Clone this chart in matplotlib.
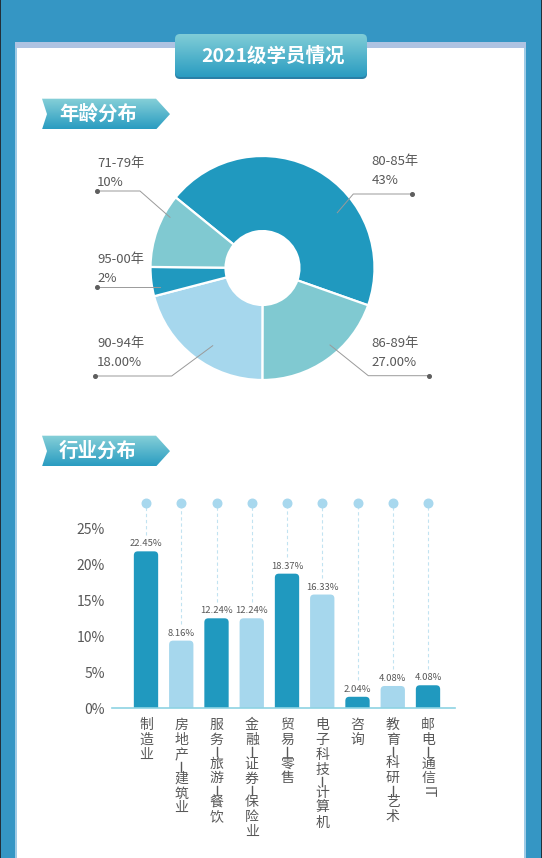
import numpy as np
import matplotlib
matplotlib.use("Agg")
import matplotlib.pyplot as plt
from matplotlib.patches import Rectangle, FancyBboxPatch, Polygon

plt.rcParams['font.family'] = ['Noto Sans CJK SC', 'DejaVu Sans']

# -------------------------------------------------------------------
# Data
# -------------------------------------------------------------------
title = "2021级学员情况"
age_names = ["80-85年", "86-89年", "90-94年", "95-00年", "71-79年"]
age_texts = ["43%", "27.00%", "18.00%", "2%", "10%"]
age_share = [44.5, 19.6, 20.9, 4.2, 10.7]      # slice sizes as drawn

industries = ["制造业", "房地产—建筑业", "服务—旅游—餐饮", "金融—证券—保险业",
              "贸易—零售", "电子科技—计算机", "咨询", "教育—科研—艺术", "邮电—通信IT"]
industry_height = [21.8, 9.4, 12.5, 12.5, 18.7, 15.8, 1.6, 3.1, 3.2]   # bar heights as drawn
industry_texts = ["22.45%", "8.16%", "12.24%", "12.24%", "18.37%", "16.33%",
                  "2.04%", "4.08%", "4.08%"]
yticks = [0, 5, 10, 15, 20, 25]

DARK = "#2099bf"
TEAL = "#80c9d1"
LIGHT = "#a6d7ed"
TXT = "#585858"

W, H = 542, 858
fig = plt.figure(figsize=(W / 100, H / 100), dpi=100)

# -------------------------------------------------------------------
# Page background (pixel coordinates)
# -------------------------------------------------------------------
bg = fig.add_axes([0, 0, 1, 1], zorder=0)
bg.axis("off")


def box(x, y, w, h, c):
    bg.add_patch(Rectangle((x, y), w, h, facecolor=c, edgecolor="none", lw=0))


box(0, 0, W, H, "#3596c4")
box(0, 0, 1, H, "#22303a")
box(541, 0, 1, H, "#22303a")
box(15, 42, 511, 6, "#aec3e2")
box(15, 48, 511, H, "#9fcbe6")
box(17, 48, 507, H, "white")


def gradient_fill(patch, x0, x1, y0, y1, top="#86d0d8", bottom="#2a9cc1"):
    bg.add_patch(patch)
    c1 = np.array(matplotlib.colors.to_rgb(top))
    c2 = np.array(matplotlib.colors.to_rgb(bottom))
    t = np.linspace(0, 1, 64)[:, None, None]
    img = c1 * (1 - t) + c2 * t
    im = bg.imshow(img, extent=(x0, x1, y1, y0), origin="upper",
                   aspect="auto", zorder=2)
    im.set_clip_path(patch)


# title box
bg.add_patch(FancyBboxPatch((175, 36), 192, 43, boxstyle="round,pad=0,rounding_size=5",
                            facecolor="#2a7fa6", edgecolor="none", zorder=1))
tbox = FancyBboxPatch((175, 34), 192, 43, boxstyle="round,pad=0,rounding_size=5",
                      facecolor="none", edgecolor="none")
gradient_fill(tbox, 175, 367, 34, 77, top="#80cdd7", bottom="#2a9cc1")
bg.text(273, 56.5, title, color="white", fontsize=14, fontweight="bold",
        ha="center", va="center", zorder=3)

# section banners
for label, y0 in [("年龄分布", 98.7), ("行业分布", 435.7)]:
    h = 30.8
    x0 = 42
    verts = [(x0, y0), (156, y0), (170, y0 + h / 2), (156, y0 + h),
             (x0, y0 + h), (x0 + 5, y0 + h / 2)]
    poly = Polygon(verts, closed=True, facecolor="none", edgecolor="none")
    gradient_fill(poly, x0, 170, y0, y0 + h)
    bg.text(98, y0 + h / 2, label, color="white", fontsize=14, fontweight="bold",
            ha="center", va="center", zorder=3)

bg.set_xlim(0, W)
bg.set_ylim(H, 0)

# -------------------------------------------------------------------
# Donut chart
# -------------------------------------------------------------------
cx, cy, R = 262.5, 268, 112
ax_pie = fig.add_axes([(cx - R) / W, 1 - (cy + R) / H, 2 * R / W, 2 * R / H], zorder=2)
ax_pie.pie(age_share, colors=[DARK, TEAL, LIGHT, DARK, TEAL], startangle=140.9,
           counterclock=False, radius=1,
           wedgeprops=dict(width=0.67, edgecolor="white", linewidth=1.6))
ax_pie.set_xlim(-1, 1)
ax_pie.set_ylim(-1, 1)
ax_pie.axis("off")

# labels with leader lines (page pixel coords)
lab = fig.add_axes([0, 0, 1, 1], zorder=3)
lab.axis("off")
lab.set_xlim(0, W)
lab.set_ylim(H, 0)
label_spots = {
    "80-85年": dict(tx=371.7, ty=162, line=[(412.3, 194), (353.3, 194), (337.3, 212.7)]),
    "86-89年": dict(tx=371.7, ty=343, line=[(429, 375.7), (368.3, 375.7), (330, 345)]),
    "90-94年": dict(tx=97, ty=343, line=[(95, 376), (171.7, 376), (212.7, 345.7)]),
    "95-00年": dict(tx=97, ty=260, line=[(97.3, 286.7), (160, 286.7)]),
    "71-79年": dict(tx=97, ty=163, line=[(97.3, 191), (140, 191), (170, 217.3)]),
}
for name, pct in zip(age_names, age_texts):
    s = label_spots[name]
    lx, ly = zip(*s["line"])
    lab.plot(lx, ly, color="#9a9a9a", lw=0.7)
    lab.plot(lx[0], ly[0], "o", color="#5e5e5e", ms=2.6)
    lab.text(s["tx"], s["ty"], name, fontsize=9.5, color=TXT, ha="left", va="center")
    lab.text(s["tx"], s["ty"] + 19, pct, fontsize=9.5, color=TXT, ha="left", va="center")

# -------------------------------------------------------------------
# Bar chart
# -------------------------------------------------------------------
px_x = 35.25          # pixels per category
px_y = 7.2            # pixels per percent
y0_px = 708.3
x0_px = 146
ax_l, ax_r = 112, 455
ytop = 29.5
ax_bar = fig.add_axes([ax_l / W, 1 - y0_px / H, (ax_r - ax_l) / W, ytop * px_y / H], zorder=2)
ax_bar.set_facecolor("none")

xs = np.arange(len(industries))
colors = [DARK if i % 2 == 0 else LIGHT for i in xs]
bars = ax_bar.bar(xs, industry_height, width=0.69, color=colors)
rad = 4.0 / px_x
for rect, c in zip(bars, colors):
    rect.set_visible(False)
    ax_bar.add_patch(FancyBboxPatch((rect.get_x(), -2), rect.get_width(), rect.get_height() + 2,
                                    boxstyle=f"round,pad=0,rounding_size={rad}",
                                    mutation_aspect=px_x / px_y,
                                    facecolor=c, edgecolor="none", zorder=2))

dot_y = 28.5
for x, h, t in zip(xs, industry_height, industry_texts):
    ax_bar.plot([x, x], [h + 2.3, dot_y], color="#c2e3f1", lw=0.8,
                linestyle=(0, (3, 2.5)), zorder=1, clip_on=False)
    ax_bar.annotate(t, (x, h), xytext=(0, 3), textcoords="offset pixels",
                    ha="center", va="bottom", fontsize=6.8, color=TXT)
ax_bar.scatter(xs, [dot_y] * len(xs), s=38, color="#a8d8ee", zorder=3, clip_on=False)

ax_bar.set_xlim(-(x0_px - ax_l) / px_x, (ax_r - x0_px) / px_x)
ax_bar.set_ylim(0, ytop)
ax_bar.set_yticks(yticks)
ax_bar.set_yticklabels([f"{v}%" for v in yticks])
ax_bar.tick_params(axis="y", length=0, pad=5, labelsize=10, labelcolor=TXT)
ax_bar.set_xticks([])
for sp in ["top", "right", "left"]:
    ax_bar.spines[sp].set_visible(False)
ax_bar.spines["bottom"].set_color("#8ed3e3")
ax_bar.spines["bottom"].set_linewidth(1.2)
ax_bar.spines["bottom"].set_zorder(4)

# vertical category labels, one glyph per slot
for x, name in zip(xs, industries):
    pos = 16.7
    parts = name.replace("IT", "\x00")
    prev = None
    for ch in parts:
        if ch == "—":
            pos += 11.7
            xp = x0_px + x * px_x
            lab.plot([xp, xp], [y0_px + pos - 4.5, y0_px + pos + 4.5], color=TXT, lw=1.0)
            prev = "dash"
            continue
        if prev == "dash":
            pos += 11.7
        elif prev is not None:
            pos += 15
        if ch == "\x00":
            pos -= 1.5
            ax_bar.annotate("IT", (x, 0), xytext=(0, -pos), textcoords="offset pixels",
                            ha="center", va="center", fontsize=10, color=TXT, rotation=-90)
        else:
            ax_bar.annotate(ch, (x, 0), xytext=(0, -pos), textcoords="offset pixels",
                            ha="center", va="center", fontsize=10, color=TXT)
        prev = ch

fig.savefig("out.png", dpi=100)
